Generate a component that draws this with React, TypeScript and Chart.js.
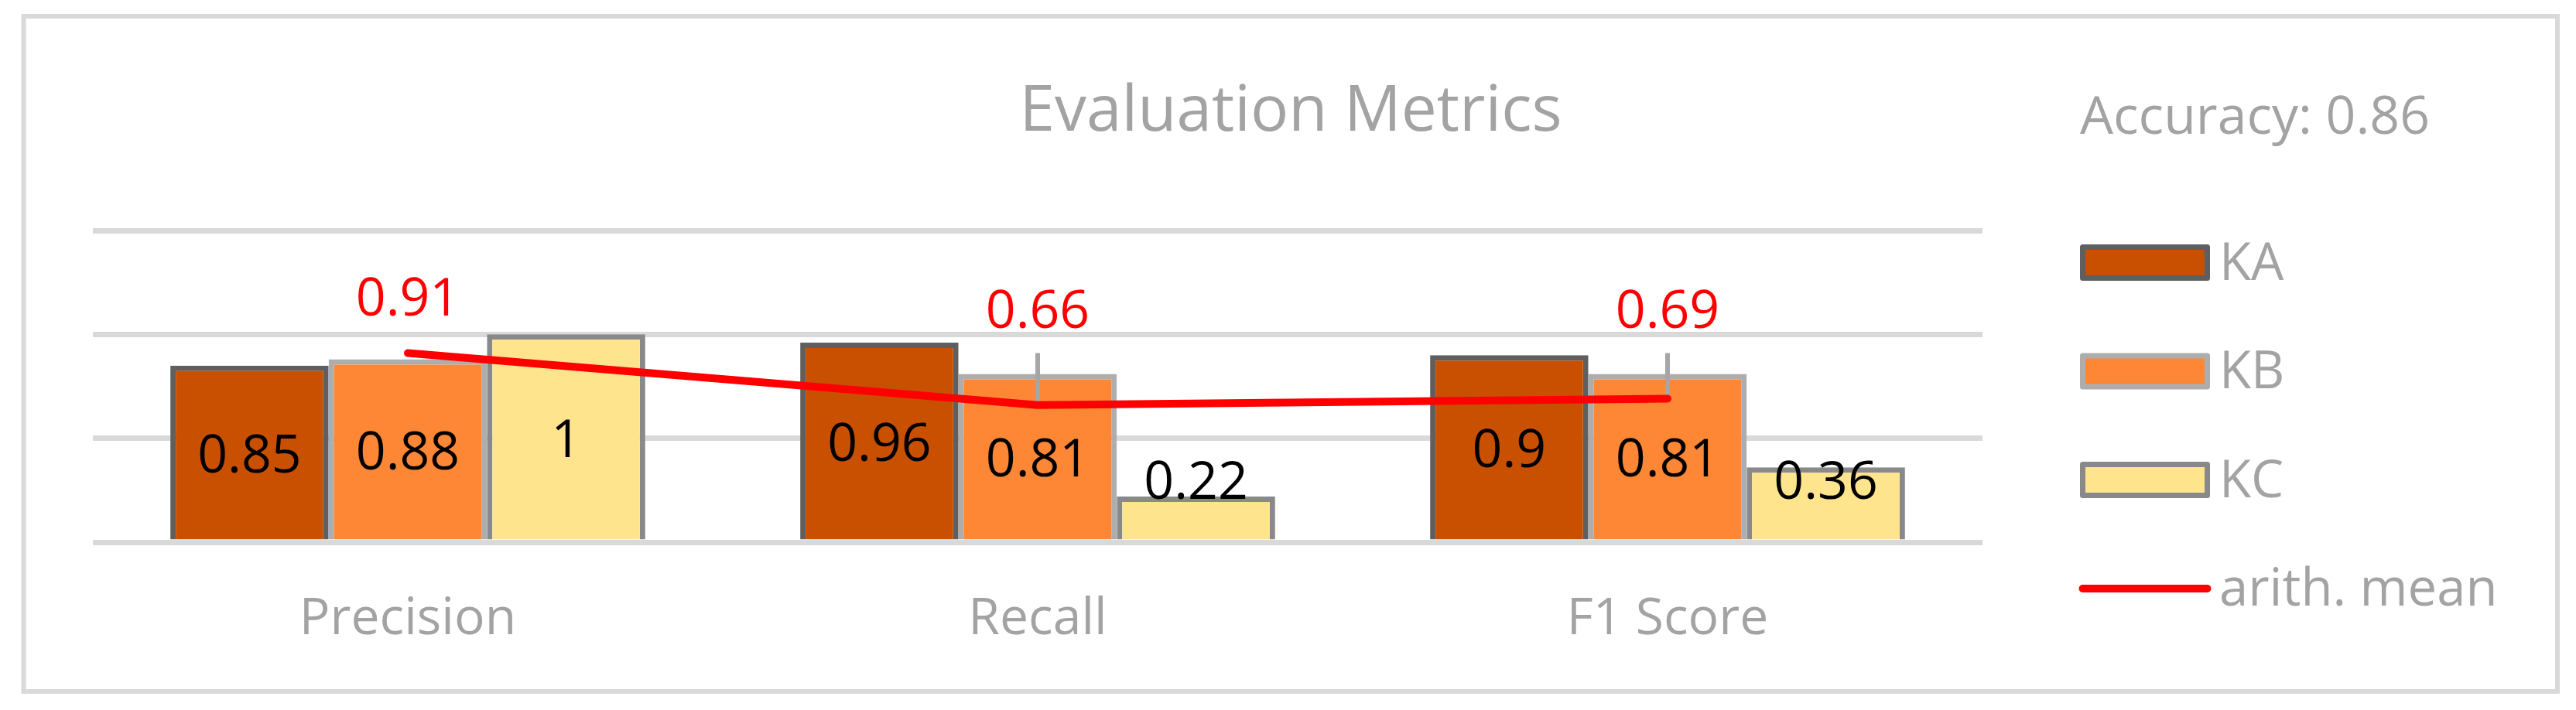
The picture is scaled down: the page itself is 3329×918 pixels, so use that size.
import React, { useEffect, useRef } from "react";
import { Chart, registerables } from "chart.js";

Chart.register(...registerables);

// ---------- data ----------
const categories = ["Precision", "Recall", "F1 Score"];
const seriesNames = ["KA", "KB", "KC", "arith. mean"];
const kaValues = [0.85, 0.96, 0.9];
const kbValues = [0.88, 0.81, 0.81];
const kcValues = [1, 0.22, 0.36];
const meanValues = [0.91, 0.66, 0.69];
const meanUpper = [0.91, 0.91, 0.91];
const yTicks = [0, 0.5, 1, 1.5];
const titleText = "Evaluation Metrics";
const accuracyText = "Accuracy: 0.86";

// ---------- styles ----------
const W = 3329;
const H = 918;
const FONT = '"Open Sans", "DejaVu Sans", sans-serif';
const GRAY_TEXT = "#a3a3a3";
const GRID = "#d9d9d9";
const fills = ["#C85000", "#FD8734", "#FFE48E"];
const borders = ["#5f5f5f", "#adadad", "#898989"];
const MEAN_COLOR = "#ff0000";

const decorPlugin = {
  id: "decor",
  beforeDraw(chart: any) {
    const ctx = chart.ctx;
    ctx.save();
    ctx.fillStyle = "#ffffff";
    ctx.fillRect(0, 0, W, H);
    ctx.strokeStyle = GRID;
    ctx.lineWidth = 6;
    ctx.strokeRect(30.5, 21, 3274.5, 873);
    ctx.restore();
  },
  beforeDatasetDraw(chart: any, args: any) {
    if (args.index !== 3) return;
    const ctx = chart.ctx;
    const xs = chart.scales.x;
    const ys = chart.scales.y;
    ctx.save();
    ctx.strokeStyle = "#a6a6a6";
    ctx.lineWidth = 6;
    meanValues.forEach((v, i) => {
      const px = xs.getPixelForValue(i);
      const y0 = ys.getPixelForValue(v);
      const y1 = ys.getPixelForValue(meanUpper[i]);
      if (Math.abs(y0 - y1) < 1) return;
      ctx.beginPath();
      ctx.moveTo(px, y0);
      ctx.lineTo(px, y1);
      ctx.stroke();
    });
    ctx.restore();
  },
  afterDatasetsDraw(chart: any) {
    const ctx = chart.ctx;
    const xs = chart.scales.x;
    const ys = chart.scales.y;
    ctx.save();
    // bar value labels
    ctx.font = `68px ${FONT}`;
    ctx.fillStyle = "#000000";
    ctx.textAlign = "center";
    ctx.textBaseline = "alphabetic";
    const capHalf = 68 * 0.714 / 2;
    [kaValues, kbValues, kcValues].forEach((vals, d) => {
      const meta = chart.getDatasetMeta(d);
      meta.data.forEach((bar: any, i: number) => {
        const v = vals[i];
        const cy = ys.getPixelForValue(Math.max(v / 2, 0.3));
        ctx.fillText(String(v), bar.x, cy + capHalf);
      });
    });
    // mean labels
    ctx.fillStyle = MEAN_COLOR;
    meanValues.forEach((v, i) => {
      const px = xs.getPixelForValue(i);
      const py = ys.getPixelForValue(v);
      const top = ys.getPixelForValue(meanUpper[i]);
      const hasWhisker = Math.abs(py - top) >= 1;
      const base = Math.min(py, top) - (hasWhisker ? 33 : 49);
      ctx.fillText(String(v), px, base);
    });
    ctx.restore();
  },
  afterDraw(chart: any) {
    const ctx = chart.ctx;
    const xs = chart.scales.x;
    const area = chart.chartArea;
    ctx.save();
    // title
    ctx.fillStyle = GRAY_TEXT;
    ctx.textAlign = "center";
    ctx.textBaseline = "alphabetic";
    ctx.font = `82px ${FONT}`;
    ctx.fillText(titleText, 1668, 169);
    // category labels
    ctx.font = `66px ${FONT}`;
    categories.forEach((c, i) => {
      ctx.fillText(c, xs.getPixelForValue(i), area.bottom + 119);
    });
    // accuracy text
    ctx.textAlign = "left";
    ctx.font = `68px ${FONT}`;
    ctx.fillText(accuracyText, 2688, 173);
    // legend
    const lx0 = 2691.5;
    const lw = 161;
    const rowY = [339.5, 480, 620.5, 761];
    ctx.font = `67px ${FONT}`;
    seriesNames.forEach((name, k) => {
      const cy = rowY[k];
      if (k < 3) {
        ctx.fillStyle = fills[k];
        ctx.fillRect(lx0, cy - 20, lw, 40);
        ctx.strokeStyle = borders[k];
        ctx.lineWidth = 7;
        ctx.lineJoin = "round";
        ctx.strokeRect(lx0, cy - 20, lw, 40);
      } else {
        ctx.strokeStyle = MEAN_COLOR;
        ctx.lineWidth = 10;
        ctx.lineCap = "round";
        ctx.beginPath();
        ctx.moveTo(lx0, cy);
        ctx.lineTo(lx0 + lw, cy);
        ctx.stroke();
      }
      ctx.fillStyle = GRAY_TEXT;
      ctx.fillText(name, 2868, cy + 22);
    });
    ctx.restore();
  },
};

export default function App() {
  const canvasRef = useRef<HTMLCanvasElement | null>(null);

  useEffect(() => {
    if (!canvasRef.current) return;
    const barData = [kaValues, kbValues, kcValues];
    const chart = new Chart(canvasRef.current, {
      type: "bar",
      data: {
        labels: categories,
        datasets: [
          ...barData.map((vals, k) => ({
            type: "bar" as const,
            label: seriesNames[k],
            data: vals,
            backgroundColor: fills[k],
            borderColor: borders[k],
            borderWidth: 7,
            borderSkipped: "bottom" as const,
            barPercentage: 1,
            categoryPercentage: 0.754,
            order: 1,
          })),
          {
            type: "line" as const,
            label: seriesNames[3],
            data: meanValues,
            borderColor: MEAN_COLOR,
            borderWidth: 10,
            borderCapStyle: "round" as const,
            borderJoinStyle: "round" as const,
            pointRadius: 0,
            tension: 0,
            fill: false,
            order: 0,
          },
        ],
      },
      options: {
        responsive: false,
        animation: false,
        layout: { padding: { left: 120, right: W - 2562, top: 298, bottom: H - 701 } },
        plugins: {
          legend: { display: false },
          title: { display: false },
          tooltip: { enabled: false },
        },
        scales: {
          x: { display: false, offset: true },
          y: {
            min: yTicks[0],
            max: yTicks[yTicks.length - 1],
            ticks: { display: false, stepSize: yTicks[1] - yTicks[0] },
            grid: { color: GRID, lineWidth: 7, drawTicks: false },
            border: { display: false },
            afterFit: (s: any) => {
              s.width = 0;
            },
          },
        },
      },
      plugins: [decorPlugin],
    } as any);
    return () => chart.destroy();
  }, []);

  return (
    <div style={{ position: "absolute", left: 0, top: 0, width: W, height: H }}>
      <canvas ref={canvasRef} width={W} height={H} style={{ display: "block", width: W, height: H }} />
    </div>
  );
}
